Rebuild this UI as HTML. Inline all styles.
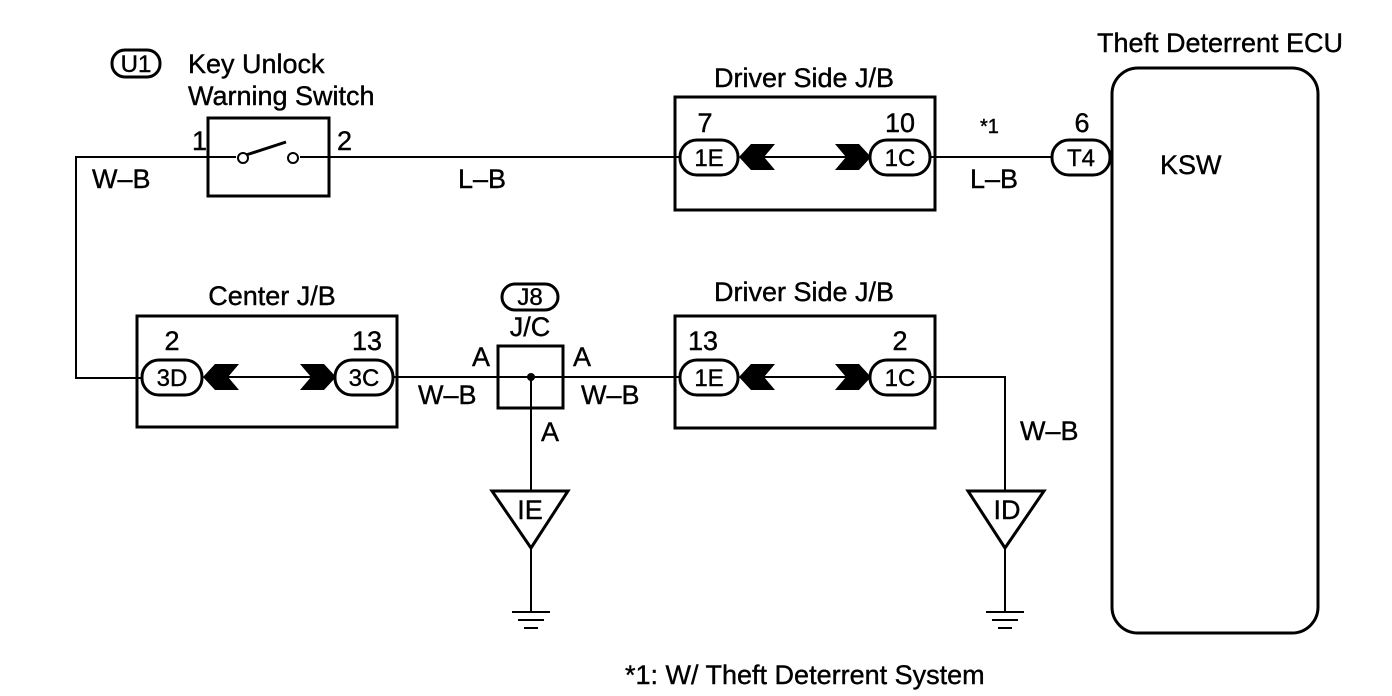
<!DOCTYPE html>
<html><head><style>body{margin:0;background:#fff}svg{display:block}text{font-family:"Liberation Sans",Arial,sans-serif;font-size:27px;fill:#000;stroke:#000;stroke-width:0.4}.m{text-anchor:middle}.p{font-size:24px}</style></head><body>
<svg width="1392" height="696" viewBox="0 0 1392 696" xmlns="http://www.w3.org/2000/svg">
<defs>
<g id="chL"><polygon points="0,0 12,-13 36,-13 25,0 36,13 12,13" fill="#000"/></g>
<g id="chR"><polygon points="0,0 -12,-13 -36,-13 -25,0 -36,13 -12,13" fill="#000"/></g>
</defs>
<g stroke="#000" fill="none" stroke-width="2">
<polyline points="208,157 76,157 76,378 142,378"/>
<line x1="329" y1="157" x2="680" y2="157"/>
<line x1="930" y1="157" x2="1052" y2="157"/>
<line x1="393" y1="377" x2="680" y2="377"/>
<polyline points="930,377 1005,377 1005,491"/>
<line x1="531" y1="377" x2="531" y2="491"/>
<line x1="531" y1="548" x2="531" y2="612"/>
<line x1="1005" y1="548" x2="1005" y2="612"/>
<line x1="205" y1="377" x2="335" y2="377"/>
<line x1="740" y1="377" x2="870" y2="377"/>
<line x1="740" y1="157" x2="870" y2="157"/>
</g>
<g stroke="#000" fill="none" stroke-width="3">
<rect x="208" y="118" width="121" height="78"/>
<rect x="137" y="316" width="260" height="111"/>
<rect x="675" y="316" width="260" height="112"/>
<rect x="675" y="97" width="260" height="113"/>
<rect x="498" y="346" width="65" height="62"/>
<rect x="1112" y="68" width="206" height="565" rx="26"/>
<polygon points="492,491 568,491 531,548"/>
<polygon points="968,491 1044,491 1005,548"/>
<rect x="142" y="360" width="60" height="35" rx="17"/>
<rect x="335" y="360" width="58" height="35" rx="17"/>
<rect x="680" y="360" width="58" height="35" rx="17"/>
<rect x="870" y="360" width="60" height="35" rx="17"/>
<rect x="680" y="140" width="58" height="35" rx="17"/>
<rect x="870" y="140" width="60" height="35" rx="17"/>
<rect x="1052" y="140" width="58" height="35" rx="17"/>
<rect x="112" y="50" width="48" height="27" rx="13"/>
<rect x="502" y="284" width="56" height="26" rx="13"/>
</g>
<g stroke="#000" stroke-width="2" fill="#fff">
<line x1="208" y1="157" x2="236" y2="157"/>
<line x1="300" y1="157" x2="329" y2="157"/>
<line x1="246" y1="155" x2="286" y2="142" stroke-width="3"/>
<circle cx="243" cy="158" r="5"/>
<circle cx="293" cy="158" r="5"/>
</g>
<circle cx="531" cy="377" r="4" fill="#000"/>
<g stroke="#000" stroke-width="2">
<line x1="512" y1="612" x2="550" y2="612"/><line x1="518" y1="620" x2="544" y2="620"/><line x1="524" y1="628" x2="538" y2="628"/>
<line x1="986" y1="612" x2="1024" y2="612"/><line x1="992" y1="620" x2="1018" y2="620"/><line x1="998" y1="628" x2="1012" y2="628"/>
</g>
<use href="#chL" x="203" y="377"/><use href="#chR" x="336" y="377"/>
<use href="#chL" x="739" y="377"/><use href="#chR" x="871" y="377"/>
<use href="#chL" x="739" y="157"/><use href="#chR" x="871" y="157"/>
<text class="m p" x="136" y="72">U1</text>
<text x="188" y="73">Key Unlock</text>
<text x="188" y="105">Warning Switch</text>
<text x="192" y="150">1</text><text x="337" y="150">2</text>
<text x="92" y="188">W–B</text><text x="458" y="188">L–B</text>
<text class="m" x="804" y="87">Driver Side J/B</text>
<text class="m" x="705" y="132">7</text><text class="m" x="900" y="132">10</text>
<text class="m p" x="709" y="166">1E</text><text class="m p" x="900" y="166">1C</text>
<text x="980" y="133" style="font-size:20px">*1</text>
<text x="970" y="188">L–B</text>
<text class="m" x="1082" y="132">6</text><text class="m p" x="1081" y="166">T4</text>
<text x="1160" y="174">KSW</text>
<text class="m" x="1220" y="52">Theft Deterrent ECU</text>
<text class="m" x="272" y="305">Center J/B</text>
<text class="m" x="172" y="350">2</text><text class="m" x="367" y="350">13</text>
<text class="m p" x="172" y="386">3D</text><text class="m p" x="364" y="386">3C</text>
<text class="m p" x="530" y="305">J8</text>
<text class="m" x="530" y="336">J/C</text>
<text x="472" y="366">A</text><text x="573" y="366">A</text><text x="541" y="441">A</text>
<text x="418" y="404">W–B</text><text x="581" y="404">W–B</text>
<text class="m" x="804" y="301">Driver Side J/B</text>
<text class="m" x="703" y="350">13</text><text class="m" x="900" y="350">2</text>
<text class="m p" x="709" y="386">1E</text><text class="m p" x="900" y="386">1C</text>
<text x="1020" y="440">W–B</text>
<text class="m" x="530" y="519">IE</text><text class="m" x="1007" y="519">ID</text>
<text x="625" y="684">*1: W/ Theft Deterrent System</text>
</svg>
</body></html>
